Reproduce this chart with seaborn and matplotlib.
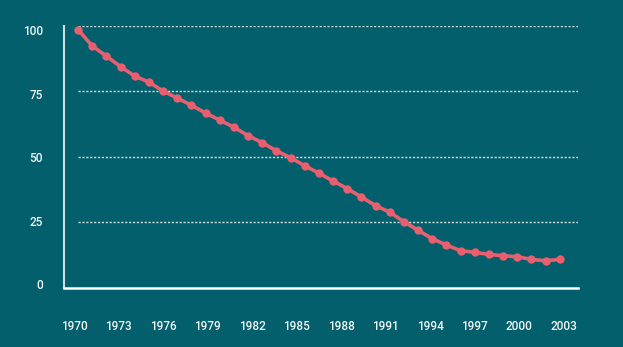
import matplotlib
matplotlib.use("Agg")
import matplotlib.pyplot as plt
import matplotlib.transforms as mtransforms
import numpy as np
import pandas as pd
import seaborn as sns

# ---- data ----
years = [1970, 1971, 1972, 1973, 1974, 1975, 1976, 1977, 1978, 1979,
         1980, 1981, 1982, 1983, 1984, 1985, 1986, 1987, 1988, 1989,
         1990, 1991, 1992, 1993, 1994, 1995, 1996, 1997, 1998, 1999,
         2000, 2001, 2002, 2003, 2004]
values = [98.5, 92.3, 88.4, 84.4, 80.8, 78.5, 75.1, 72.4, 69.7, 66.7,
          64.0, 61.3, 58.1, 55.4, 52.3, 49.7, 46.6, 43.8, 40.8, 37.9,
          34.7, 31.4, 28.9, 25.3, 22.0, 18.8, 16.4, 14.2, 13.6, 12.8,
          12.3, 11.9, 10.9, 10.4, 10.9]
x_tick_labels = ["1970", "1973", "1976", "1979", "1982", "1985",
                 "1988", "1991", "1994", "1997", "2000", "2003"]
y_ticks = [0, 25, 50, 75, 100]

df = pd.DataFrame({"year": years, "value": values})

# ---- style ----
BG = "#025f6b"
LINE = "#ea5f6f"
TXT = "#f2f7f7"
GRID = "#c9dcde"

sns.set_style("white")
plt.rcParams["font.family"] = ["Roboto", "DejaVu Sans"]

W, H = 623, 347
fig = plt.figure(figsize=(W / 100, H / 100), dpi=100, facecolor=BG)
ax = fig.add_axes([64 / W, (H - 288) / H, 514 / W, 262.3 / H])
ax.set_facecolor(BG)

# grid lines (dotted)
for yv in y_ticks[1:]:
    ax.axhline(yv, xmin=(78 - 64) / 514, xmax=1, color=GRID, lw=1.0,
               linestyle=(0, (1.6, 1.2)), zorder=1)

sns.lineplot(data=df, x="year", y="value", ax=ax, color=LINE, lw=2.6,
             marker="o", markersize=6, markeredgewidth=0,
             markerfacecolor=LINE, zorder=3, clip_on=False)

ax.set_xlim(1969.01, 2005.29)
ax.set_ylim(0, 100)

# spines
for s in ["top", "right"]:
    ax.spines[s].set_visible(False)
ax.spines["left"].set_color("#cfdfe1")
ax.spines["left"].set_linewidth(1.5)
ax.spines["bottom"].set_color("#ffffff")
ax.spines["bottom"].set_linewidth(1.8)

# ticks
ax.set_yticks(y_ticks)
ax.set_yticklabels([str(v) for v in y_ticks])
ax.tick_params(axis="y", direction="in", length=6, width=1.5,
               color="#cfdfe1", labelcolor=TXT, labelsize=8.5, pad=15)
xt = np.linspace(1969.72, 2004.28, len(x_tick_labels))
ax.set_xticks(xt)
ax.set_xticklabels(x_tick_labels)
ax.tick_params(axis="x", length=0, labelcolor=TXT, labelsize=8.5, pad=23)

ax.set_xlabel("")
ax.set_ylabel("")

# y labels in the reference sit on a slightly compressed band
label_shift_px = [3.7, 1.7, 0.0, -3.0, -4.3]
for lbl, d in zip(ax.get_yticklabels(), label_shift_px):
    off = mtransforms.ScaledTranslation(0, d / 100, fig.dpi_scale_trans)
    lbl.set_transform(lbl.get_transform() + off)
    lbl.set_fontweight("medium")
for lbl in ax.get_xticklabels():
    lbl.set_fontweight("medium")

fig.savefig("out.png", dpi=100, facecolor=BG)
